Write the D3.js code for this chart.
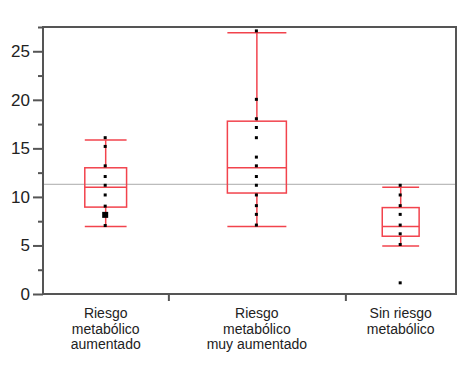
<!DOCTYPE html>
<html>
<head>
<meta charset="utf-8">
<script src="https://cdn.jsdelivr.net/npm/d3@7"></script>
<style>
  body { margin: 0; background: #fff; }
  svg { display: block; font-family: "Liberation Sans", Arial, sans-serif; }
</style>
</head>
<body>
<div id="chart"></div>
<script>
// groups, sized by sample count (JMP-style proportional widths)
const groups = [
  ["Riesgo", "metabólico", "aumentado"],
  ["Riesgo", "metabólico", "muy aumentado"],
  ["Sin riesgo", "metabólico"]
];
const groupN = [17, 24, 15];

// box stats per group: [lowWhisker, q1, median, q3, highWhisker]
const boxStats = [
  [6.95, 8.95, 11.0, 13.0, 15.85],
  [6.95, 10.4, 13.0, 17.8, 26.9],
  [4.95, 5.95, 6.95, 8.9, 11.0]
];

// observed points per group (values), with a marker-size multiplier for stacked points
const points1 = [16.1, 15.2, 13.2, 12.1, 11.2, 10.2, 9.05, 8.15, 7.05];
const sizes1  = [1, 1, 1, 1, 1, 1, 1, 2, 1];
const points2 = [27.1, 20.05, 18.05, 17.15, 16.1, 14.1, 13.2, 12.1, 11.2, 10.2, 9.1, 8.2, 7.1];
const sizes2  = [1, 1, 1, 1, 1, 1, 1, 1, 1, 1, 1, 1, 1];
const points3 = [11.2, 10.2, 9.1, 8.2, 7.1, 6.2, 5.1, 1.15];
const sizes3  = [1, 1, 1, 1, 1, 1, 1, 1];

const grandMean = 11.3;
const yMajor = [0, 5, 10, 15, 20, 25];
const yMinor = [2.5, 7.5, 12.5, 17.5, 22.5, 27.5];

const width = 472, height = 372;
const margin = { top: 27, right: 16, bottom: 78, left: 43 };
const innerW = width - margin.left - margin.right;
const innerH = height - margin.top - margin.bottom;

const red = "#f2434d";
const axisCol = "#555";

const svg = d3.select("#chart").append("svg")
  .attr("width", width)
  .attr("height", height);

const g = svg.append("g")
  .attr("transform", `translate(${margin.left},${margin.top})`);

const total = d3.sum(groupN);
const x = d3.scaleLinear().domain([0, total]).range([0, innerW]);
const y = d3.scaleLinear().domain([0, 27.5]).range([innerH, 0]);

// band edges from cumulative counts
const edges = [0];
groupN.forEach((n, i) => edges.push(edges[i] + n));

const data = [
  { vals: points1, sizes: sizes1 },
  { vals: points2, sizes: sizes2 },
  { vals: points3, sizes: sizes3 }
].map((d, i) => ({
  ...d,
  stats: boxStats[i],
  x0: x(edges[i]),
  x1: x(edges[i + 1]),
  label: groups[i]
}));

// grand mean reference line
g.append("line")
  .attr("x1", 0).attr("x2", innerW)
  .attr("y1", y(grandMean)).attr("y2", y(grandMean))
  .attr("stroke", "#aaa")
  .attr("stroke-width", 1);

// boxes
const bx = g.selectAll(".box")
  .data(data)
  .enter()
  .append("g")
  .attr("class", "box");

bx.each(function(d) {
  const sel = d3.select(this);
  const cx = (d.x0 + d.x1) / 2;
  const half = (d.x1 - d.x0) / 6;
  const [lo, q1, med, q3, hi] = d.stats;

  // whisker stems
  sel.append("line")
    .attr("x1", cx).attr("x2", cx)
    .attr("y1", y(hi)).attr("y2", y(q3))
    .attr("stroke", red).attr("stroke-width", 1.5);
  sel.append("line")
    .attr("x1", cx).attr("x2", cx)
    .attr("y1", y(q1)).attr("y2", y(lo))
    .attr("stroke", red).attr("stroke-width", 1.5);

  // caps
  [lo, hi].forEach(v => {
    sel.append("line")
      .attr("x1", cx - half).attr("x2", cx + half)
      .attr("y1", y(v)).attr("y2", y(v))
      .attr("stroke", red).attr("stroke-width", 1.5);
  });

  sel.append("rect")
    .attr("x", cx - half)
    .attr("y", y(q3))
    .attr("width", half * 2)
    .attr("height", y(q1) - y(q3))
    .attr("fill", "none")
    .attr("stroke", red)
    .attr("stroke-width", 1.5);

  sel.append("line")
    .attr("x1", cx - half).attr("x2", cx + half)
    .attr("y1", y(med)).attr("y2", y(med))
    .attr("stroke", red).attr("stroke-width", 1.5);

  // points
  sel.selectAll(".pt")
    .data(d.vals.map((v, i) => ({ v, s: d.sizes[i] })))
    .enter()
    .append("rect")
    .attr("class", "pt")
    .attr("x", p => cx - 1.5 * p.s - 0.5)
    .attr("y", p => y(p.v) - 1.5 * p.s)
    .attr("width", p => 3 * p.s)
    .attr("height", p => 3 * p.s)
    .attr("fill", "#000");
});

// frame
g.append("rect")
  .attr("x", 0).attr("y", 0)
  .attr("width", innerW).attr("height", innerH)
  .attr("fill", "none")
  .attr("stroke", axisCol)
  .attr("stroke-width", 2);

// y axis: major ticks with labels
const yAxis = g.append("g")
  .call(d3.axisLeft(y).tickValues(yMajor).tickSize(10).tickPadding(3));
yAxis.select(".domain").remove();
yAxis.selectAll("line").attr("stroke", axisCol).attr("stroke-width", 2);
yAxis.selectAll("text")
  .attr("fill", "#222")
  .style("font-size", "17px");

// y axis: minor ticks
const yMin = g.append("g")
  .call(d3.axisLeft(y).tickValues(yMinor).tickSize(5).tickFormat(""));
yMin.select(".domain").remove();
yMin.selectAll("line").attr("stroke", axisCol).attr("stroke-width", 2);

// x axis: category boundary ticks
const xAxis = g.append("g")
  .attr("transform", `translate(0,${innerH})`)
  .call(d3.axisBottom(x).tickValues(edges.slice(1, -1)).tickSize(7).tickFormat(""));
xAxis.select(".domain").remove();
xAxis.selectAll("line").attr("stroke", axisCol).attr("stroke-width", 2);

// category labels
data.forEach(d => {
  const t = g.append("text")
    .attr("x", (d.x0 + d.x1) / 2)
    .attr("y", innerH + 24)
    .attr("text-anchor", "middle")
    .attr("fill", "#222")
    .style("font-size", "14px");
  d.label.forEach((line, i) => {
    t.append("tspan")
      .attr("x", (d.x0 + d.x1) / 2)
      .attr("dy", i === 0 ? 0 : 15.5)
      .text(line);
  });
});
</script>
</body>
</html>
